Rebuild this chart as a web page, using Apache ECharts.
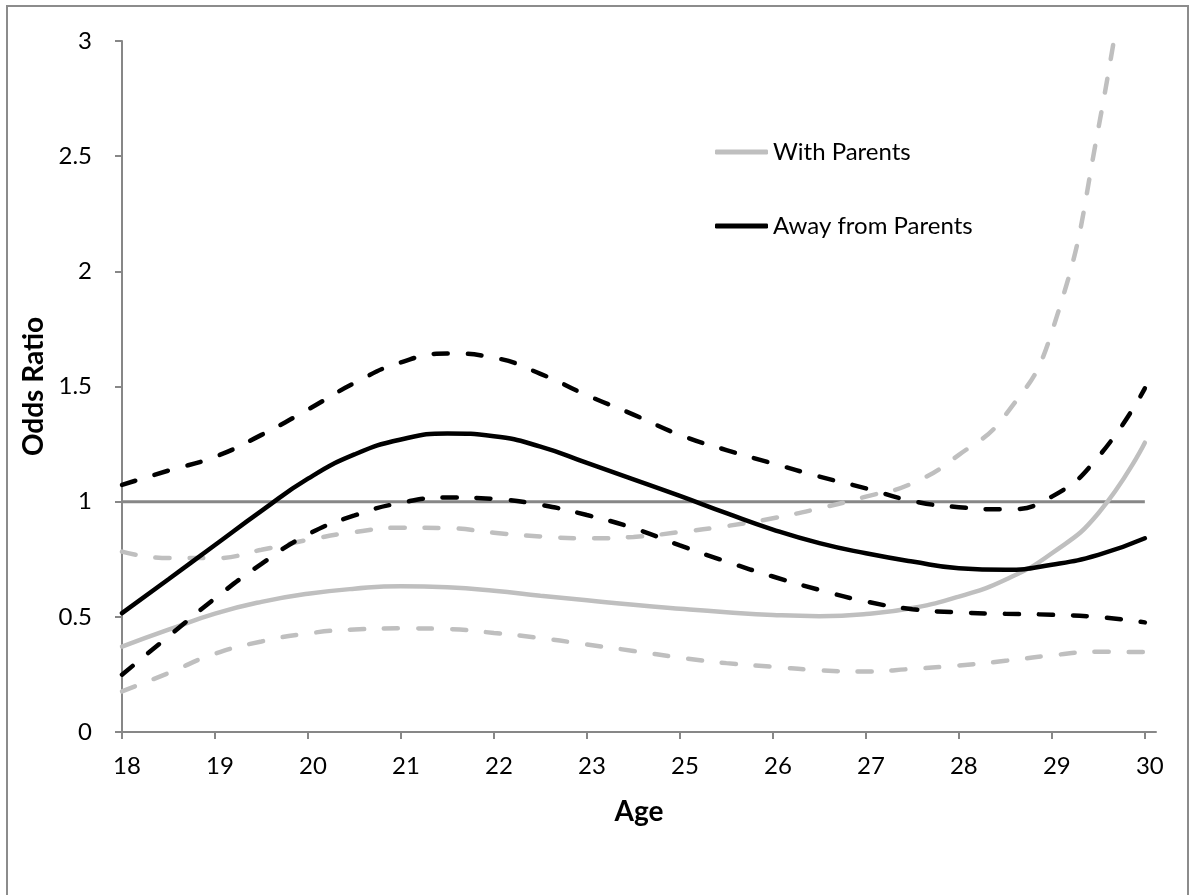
<!DOCTYPE html>
<html>
<head>
<meta charset="utf-8">
<script src="https://cdn.jsdelivr.net/npm/echarts@6/dist/echarts.min.js"></script>
<style>
  html, body { margin: 0; padding: 0; background: #ffffff; }
  #chart { width: 1191px; height: 895px; }
</style>
</head>
<body>
<div id="chart"></div>
<script>
// Age tick labels (one per tick on the horizontal axis)
const ageLabels = ['18', '19', '20', '21', '22', '23', '25', '26', '27', '28', '29', '30'];

// Sample positions along the age axis, in tick units (0 = first tick, 11 = last tick)
const agePos = [0, 0.5, 1, 1.5, 2, 2.5, 3, 3.5, 4, 4.5, 5, 5.5, 6, 6.5, 7, 7.5, 8, 8.5, 9, 9.5, 10, 10.5, 11];

// Living with parents: odds ratio and 95% confidence bounds
const withOR    = [0.371, 0.444, 0.514, 0.565, 0.600, 0.622, 0.633, 0.628, 0.613, 0.592, 0.572, 0.552, 0.535, 0.520, 0.508, 0.503, 0.512, 0.538, 0.588, 0.661, 0.776, 0.950, 1.256];
const withLower = [0.176, 0.256, 0.340, 0.393, 0.428, 0.445, 0.450, 0.447, 0.430, 0.408, 0.380, 0.352, 0.323, 0.299, 0.283, 0.268, 0.263, 0.274, 0.289, 0.309, 0.333, 0.348, 0.347];
const withUpper = [0.783, 0.755, 0.755, 0.791, 0.834, 0.868, 0.887, 0.885, 0.865, 0.849, 0.841, 0.847, 0.868, 0.894, 0.928, 0.971, 1.022, 1.080, 1.203, 1.376, 1.737, 2.620, 3.900];

// Living away from parents: odds ratio and 95% confidence bounds
const awayOR    = [0.516, 0.663, 0.812, 0.960, 1.100, 1.205, 1.270, 1.296, 1.284, 1.239, 1.168, 1.097, 1.025, 0.950, 0.879, 0.820, 0.776, 0.740, 0.711, 0.704, 0.726, 0.769, 0.841];
const awayLower = [0.249, 0.415, 0.580, 0.730, 0.858, 0.940, 0.995, 1.018, 1.012, 0.986, 0.942, 0.885, 0.810, 0.740, 0.675, 0.617, 0.567, 0.533, 0.519, 0.513, 0.509, 0.499, 0.476];
const awayUpper = [1.073, 1.135, 1.195, 1.290, 1.400, 1.515, 1.605, 1.643, 1.625, 1.555, 1.462, 1.378, 1.290, 1.224, 1.166, 1.109, 1.058, 1.003, 0.976, 0.967, 1.022, 1.195, 1.492];

// Odds ratio of 1 (no effect), drawn across the full age range
const refPos = [0, 11];
const refValue = [1, 1];

const FONT = 'Lato';
const GREY = '#bfbfbf';
const BLACK = '#000000';
const AXIS = '#878787';

const pairs = (xs, ys) => xs.map((x, i) => [x, ys[i]]);
const tickIdx = ageLabels.map((_, i) => i);

function curve(name, values, color, dashed, z) {
  return {
    name: name,
    type: 'line',
    data: pairs(agePos, values),
    smooth: 0.5,
    symbol: 'none',
    showSymbol: false,
    clip: true,
    z: z,
    itemStyle: { color: color },
    lineStyle: dashed
      ? { color: color, width: 4.5, type: [14, 20], cap: 'round' }
      : { color: color, width: 4.5, cap: 'round' },
    emphasis: { disabled: true }
  };
}

const chart = echarts.init(document.getElementById('chart'), null, { renderer: 'canvas' });

chart.setOption({
  animation: false,
  backgroundColor: '#ffffff',
  textStyle: { fontFamily: FONT, color: '#000000' },
  graphic: [{
    type: 'rect',
    silent: true,
    shape: { x: 7, y: 6, width: 1181, height: 900 },
    style: { fill: 'none', stroke: '#8c8c8c', lineWidth: 2 }
  }],
  grid: { left: 122, right: 35, top: 41, bottom: 163 },
  legend: {
    data: ['With Parents', 'Away from Parents'],
    orient: 'vertical',
    left: 715,
    top: 140,
    padding: 0,
    icon: 'roundRect',
    itemWidth: 53,
    itemHeight: 5,
    itemGap: 50,
    selectedMode: false,
    textStyle: { fontFamily: FONT, fontSize: 24, color: '#000000' }
  },
  xAxis: {
    type: 'value',
    min: 0,
    max: 11.12,
    name: 'Age',
    nameLocation: 'middle',
    nameGap: 66,
    nameTextStyle: { fontFamily: FONT, fontSize: 28, fontWeight: 'bold', color: '#000000' },
    axisLine: { show: true, onZero: false, lineStyle: { color: AXIS, width: 2 } },
    axisTick: { show: true, length: 7, customValues: tickIdx, lineStyle: { color: AXIS, width: 2 } },
    axisLabel: {
      customValues: tickIdx,
      formatter: (v) => ageLabels[Math.round(v)] || '',
      fontFamily: FONT, fontSize: 24, color: '#000000', margin: 22,
      padding: [0, 0, 0, 10]
    },
    splitLine: { show: false }
  },
  yAxis: {
    type: 'value',
    min: 0,
    max: 3,
    interval: 0.5,
    name: 'Odds Ratio',
    nameLocation: 'middle',
    nameGap: 71,
    nameTextStyle: { fontFamily: FONT, fontSize: 28, fontWeight: 'bold', color: '#000000' },
    axisLine: { show: true, lineStyle: { color: AXIS, width: 2 } },
    axisTick: { show: true, length: 7, lineStyle: { color: AXIS, width: 2 } },
    axisLabel: { fontFamily: FONT, fontSize: 24, color: '#000000', margin: 30 },
    splitLine: { show: false }
  },
  series: [
    {
      name: 'Reference',
      type: 'line',
      data: pairs(refPos, refValue),
      symbol: 'none',
      z: 1,
      itemStyle: { color: AXIS },
      lineStyle: { color: AXIS, width: 3 },
      emphasis: { disabled: true }
    },
    curve('With Parents (lower 95% CI)', withLower, GREY, true, 2),
    curve('With Parents (upper 95% CI)', withUpper, GREY, true, 2),
    curve('With Parents', withOR, GREY, false, 3),
    curve('Away from Parents (lower 95% CI)', awayLower, BLACK, true, 4),
    curve('Away from Parents (upper 95% CI)', awayUpper, BLACK, true, 4),
    curve('Away from Parents', awayOR, BLACK, false, 5)
  ]
});
</script>
</body>
</html>
